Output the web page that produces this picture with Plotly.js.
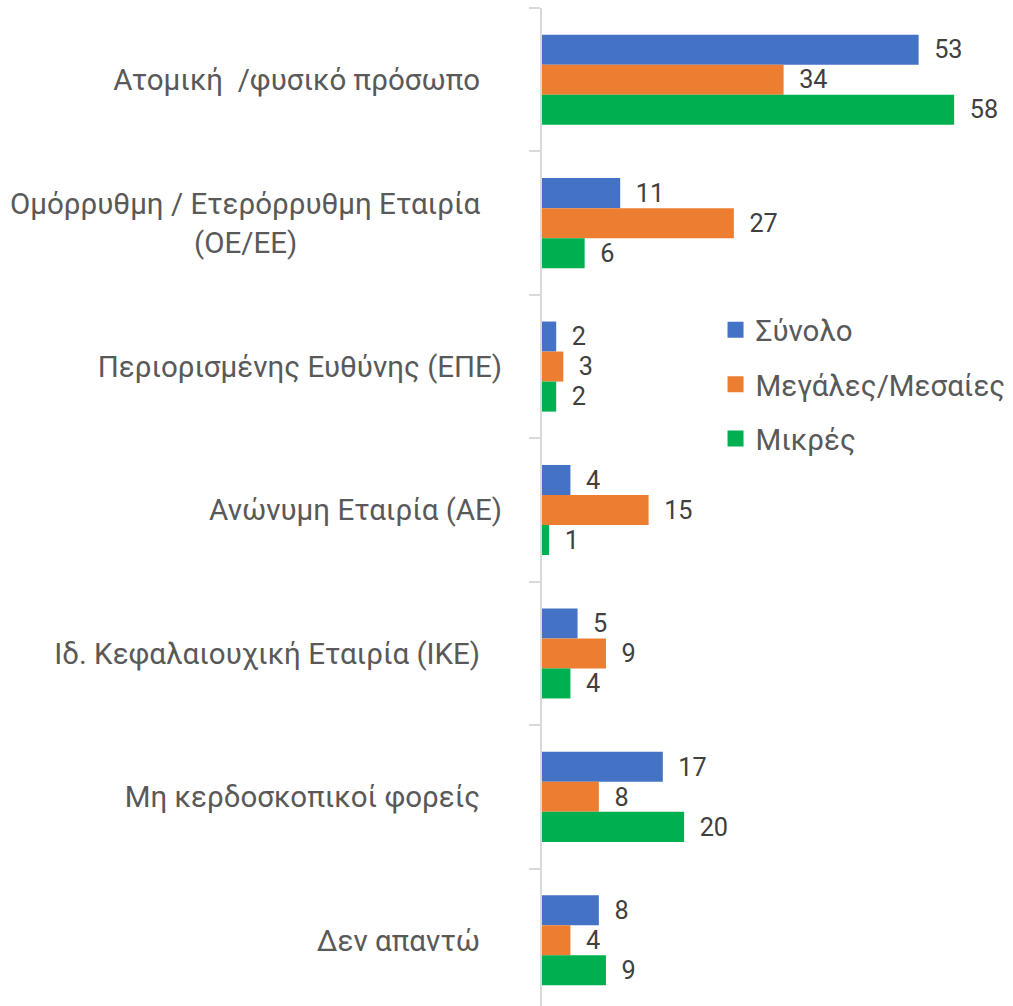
<!DOCTYPE html>
<html>
<head>
<meta charset="utf-8">
<script src="https://cdn.plot.ly/plotly-3.0.1.min.js"></script>
<style>
html,body{margin:0;padding:0;overflow:hidden;background:#fff;}
#chart{width:1013px;height:1012px;}
</style>
</head>
<body>
<div id="chart"></div>
<script>
const NB = '\u00a0';
const categories = [
  'Ατομική  /φυσικό πρόσωπο',
  'Ομόρρυθμη / Ετερόρρυθμη Εταιρία (ΟΕ/ΕΕ)',
  'Περιορισμένης Ευθύνης (ΕΠΕ)',
  'Ανώνυμη Εταιρία (ΑΕ)',
  'Ιδ. Κεφαλαιουχική Εταιρία (ΙΚΕ)',
  'Μη κερδοσκοπικο\u03af φορε\u03afς',
  'Δεν απαντώ'
];
const PAD = NB.repeat(3);
const tickLabels = [
  'Ατομική' + NB + NB + '/φυσικό πρόσωπο' + PAD,
  'Ομόρρυθμη / Ετερόρρυθμη Εταιρία' + PAD + '<br>(ΟΕ/ΕΕ)' + NB.repeat(28),
  'Περιορισμένης Ευθύνης (ΕΠΕ)',
  'Ανώνυμη Εταιρία (ΑΕ)',
  'Ιδ. Κεφαλαιουχική Εταιρία (ΙΚΕ)' + PAD,
  'Μη κερδοσκοπικο\u03af φορε\u03afς' + PAD,
  'Δεν απαντώ' + PAD
];
const seriesNames = ['Σύνολο', 'Μεγάλες/Μεσαίες', 'Μικρές'];
const synolo = [53, 11, 2, 4, 5, 17, 8];
const megales = [34, 27, 3, 15, 9, 8, 4];
const mikres = [58, 6, 2, 1, 4, 20, 9];
const colors = ['#4472C4', '#ED7D31', '#00B050'];

const FONT = 'Roboto, "Noto Sans", sans-serif';
const seriesValues = [synolo, megales, mikres];
const traces = seriesValues.map((vals, i) => ({
  type: 'bar',
  orientation: 'h',
  name: seriesNames[i],
  showlegend: false,
  x: vals,
  y: categories,
  marker: {color: colors[i], line: {width: 0}},
  text: vals.map(v => NB + NB + v),
  textposition: 'outside',
  cliponaxis: false,
  textfont: {family: FONT, size: 32, color: '#404040'},
  hoverinfo: 'x+name'
}));
// legend-only entries (no data) to get larger square keys
seriesNames.forEach((nm, i) => {
  traces.push({
    type: 'scatter',
    mode: 'markers',
    name: nm,
    legendgroup: 'g' + i,
    x: [null],
    y: [null],
    marker: {symbol: 'square', size: 16, color: colors[i]},
    hoverinfo: 'skip'
  });
});

const layout = {
  width: 1013,
  height: 1012,
  margin: {l: 542, r: 2, t: 8, b: 0},
  paper_bgcolor: '#fff',
  plot_bgcolor: '#fff',
  barmode: 'group',
  bargap: 0.372,
  bargroupgap: 0,
  font: {family: FONT, color: '#595959'},
  xaxis: {
    range: [0, 66],
    visible: false,
    fixedrange: true
  },
  yaxis: {
    type: 'category',
    autorange: 'reversed',
    tickmode: 'array',
    tickvals: categories,
    ticktext: tickLabels,
    showline: true,
    linecolor: '#D9D9D9',
    linewidth: 2,
    ticks: 'outside',
    tickson: 'boundaries',
    ticklen: 11,
    tickcolor: '#D9D9D9',
    tickwidth: 2,
    showgrid: false,
    zeroline: false,
    ticklabelstandoff: 32,
    tickfont: {family: FONT, size: 29.5, color: '#595959'}
  },
  showlegend: true,
  legend: {
    x: 0.37,
    y: 0.705,
    xanchor: 'left',
    yanchor: 'top',
    traceorder: 'grouped',
    tracegroupgap: 13,
    itemwidth: 30,
    font: {family: FONT, size: 29.5, color: '#595959'},
    bgcolor: 'rgba(0,0,0,0)'
  }
};

Plotly.newPlot('chart', traces, layout, {displayModeBar: false, staticPlot: true});
</script>
</body>
</html>
